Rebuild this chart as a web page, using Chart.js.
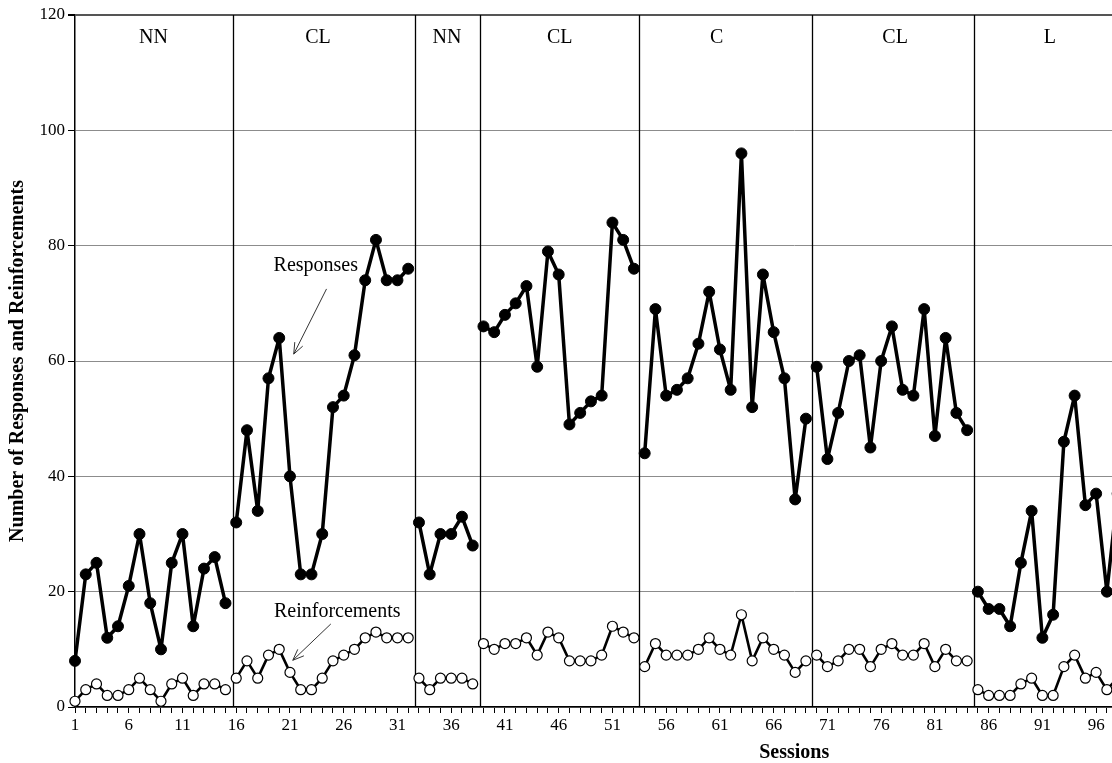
<!DOCTYPE html>
<html>
<head>
<meta charset="utf-8">
<title>Responses and Reinforcements per Session</title>
<script src="https://cdn.jsdelivr.net/npm/chart.js@4.4.1/dist/chart.umd.min.js"></script>
<style>
  html, body { margin: 0; padding: 0; background: #fff; overflow: hidden; }
  canvas { display: block; }
</style>
</head>
<body>
<canvas id="chart" width="1520" height="763"></canvas>
<script>
// Responses per session (sessions 1..98)
const responses = [
  8, 23, 25, 12, 14, 21, 30, 18, 10, 25, 30, 14, 24, 26, 18,          // NN  1-15
  32, 48, 34, 57, 64, 40, 23, 23, 30, 52, 54, 61, 74, 81, 74, 74, 76, // CL 16-32
  32, 23, 30, 30, 33, 28,                                             // NN 33-38
  66, 65, 68, 70, 73, 59, 79, 75, 49, 51, 53, 54, 84, 81, 76,         // CL 39-53
  44, 69, 54, 55, 57, 63, 72, 62, 55, 96, 52, 75, 65, 57, 36, 50,     // C  54-69
  59, 43, 51, 60, 61, 45, 60, 66, 55, 54, 69, 47, 64, 51, 48,         // CL 70-84
  20, 17, 17, 14, 25, 34, 12, 16, 46, 54, 35, 37, 20, 37              // L  85-98
];

// Reinforcements per session (sessions 1..98)
const reinforcements = [
  1, 3, 4, 2, 2, 3, 5, 3, 1, 4, 5, 2, 4, 4, 3,
  5, 8, 5, 9, 10, 6, 3, 3, 5, 8, 9, 10, 12, 13, 12, 12, 12,
  5, 3, 5, 5, 5, 4,
  11, 10, 11, 11, 12, 9, 13, 12, 8, 8, 8, 9, 14, 13, 12,
  7, 11, 9, 9, 9, 10, 12, 10, 9, 16, 8, 12, 10, 9, 6, 8,
  9, 7, 8, 10, 10, 7, 10, 11, 9, 9, 11, 7, 10, 8, 8,
  3, 2, 2, 2, 4, 5, 2, 2, 7, 9, 5, 6, 3, 5
];

// Phase conditions, the session positions of the change lines, and label centres
const phaseNames = ['NN', 'CL', 'NN', 'CL', 'C', 'CL', 'L'];
const phaseBounds = [15.7, 32.6, 38.7, 53.45, 69.6, 84.6];
const phaseLabelAt = [8.3, 23.6, 35.6, 46.1, 60.7, 77.3, 91.7];

// Axis tick labels
const sessionTickLabels = [1, 6, 11, 16, 21, 26, 31, 36, 41, 46, 51, 56, 61, 66, 71, 76, 81, 86, 91, 96];
const countTicks = [0, 20, 40, 60, 80, 100, 120];

const SERIF = '"Liberation Serif", "Times New Roman", Times, serif';

// Turn a per-session series into {x, y} points, breaking the line at phase changes
function toPoints(values) {
  const pts = [];
  values.forEach((v, i) => {
    const s = i + 1;
    if (i > 0 && phaseBounds.some(b => b > s - 1 && b < s)) {
      pts.push({ x: s - 0.5, y: null });
    }
    pts.push({ x: s, y: v });
  });
  return pts;
}

// Callout labels with arrows, placed in (session, count) coordinates
const callouts = [
  { text: 'Responses', at: [23.4, 76.5], from: [24.4, 72.5], to: [21.35, 61.2] },
  { text: 'Reinforcements', at: [25.4, 16.6], from: [24.8, 14.4], to: [21.26, 8.1] }
];

const phasePlugin = {
  id: 'phases',
  beforeDatasetsDraw(chart) {
    const { ctx, chartArea, scales: { x, y } } = chart;
    ctx.save();
    ctx.strokeStyle = '#000';
    ctx.lineWidth = 1.3;
    const top = y.getPixelForValue(countTicks[countTicks.length - 1]);
    const bottom = y.getPixelForValue(0);
    phaseBounds.forEach(b => {
      const px = Math.round(x.getPixelForValue(b)) + 0.5;
      ctx.beginPath();
      ctx.moveTo(px, top);
      ctx.lineTo(px, bottom);
      ctx.stroke();
    });
    ctx.fillStyle = '#000';
    ctx.font = '20px ' + SERIF;
    ctx.textAlign = 'center';
    ctx.textBaseline = 'middle';
    phaseNames.forEach((name, i) => {
      ctx.fillText(name, x.getPixelForValue(phaseLabelAt[i]), chartArea.top + 23);
    });
    ctx.restore();
  },
  afterDatasetsDraw(chart) {
    const { ctx, scales: { x, y } } = chart;
    ctx.save();
    ctx.font = '20px ' + SERIF;
    ctx.textAlign = 'center';
    ctx.textBaseline = 'middle';
    ctx.fillStyle = '#000';
    ctx.strokeStyle = '#333';
    ctx.lineWidth = 1;
    callouts.forEach(c => {
      ctx.fillText(c.text, x.getPixelForValue(c.at[0]), y.getPixelForValue(c.at[1]));
      const x1 = x.getPixelForValue(c.from[0]), y1 = y.getPixelForValue(c.from[1]);
      const x2 = x.getPixelForValue(c.to[0]), y2 = y.getPixelForValue(c.to[1]);
      const ang = Math.atan2(y2 - y1, x2 - x1);
      const head = 12, spread = 0.38;
      ctx.beginPath();
      ctx.moveTo(x1, y1);
      ctx.lineTo(x2, y2);
      ctx.moveTo(x2 - head * Math.cos(ang - spread), y2 - head * Math.sin(ang - spread));
      ctx.lineTo(x2, y2);
      ctx.lineTo(x2 - head * Math.cos(ang + spread), y2 - head * Math.sin(ang + spread));
      ctx.stroke();
    });
    ctx.restore();
  }
};

new Chart(document.getElementById('chart'), {
  type: 'line',
  data: {
    datasets: [
      {
        label: 'Responses',
        data: toPoints(responses),
        borderColor: '#000',
        borderWidth: 3.5,
        borderJoinStyle: 'round',
        borderCapStyle: 'round',
        pointRadius: 5.5,
        pointBackgroundColor: '#000',
        pointBorderColor: '#000',
        pointBorderWidth: 1,
        tension: 0,
        clip: false
      },
      {
        label: 'Reinforcements',
        data: toPoints(reinforcements),
        borderColor: '#000',
        borderWidth: 2.6,
        borderJoinStyle: 'round',
        borderCapStyle: 'round',
        pointRadius: 5,
        pointBackgroundColor: '#fff',
        pointBorderColor: '#000',
        pointBorderWidth: 1.2,
        tension: 0,
        clip: false
      }
    ]
  },
  options: {
    responsive: false,
    animation: false,
    devicePixelRatio: 1,
    layout: { padding: { top: 15, right: 5, left: 0, bottom: 0 } },
    plugins: {
      legend: { display: false },
      tooltip: { enabled: false }
    },
    scales: {
      x: {
        type: 'linear',
        min: 1,
        max: 134.83,
        afterFit(scale) { scale.height = 56; },
        grid: { drawOnChartArea: false, drawTicks: true, tickLength: 6, tickColor: '#000', tickWidth: 1 },
        border: { color: '#000', width: 1.5 },
        ticks: {
          stepSize: 1,
          autoSkip: false,
          maxRotation: 0,
          minRotation: 0,
          includeBounds: false,
          padding: 2,
          color: '#000',
          font: { family: SERIF, size: 17 },
          callback: v => sessionTickLabels.includes(v) ? String(v) : ''
        },
        title: {
          display: true,
          text: 'Sessions',
          color: '#000',
          font: { family: SERIF, size: 20, weight: 'bold', lineHeight: 1 },
          padding: { top: 0, bottom: 0 }
        }
      },
      y: {
        min: 0,
        max: 120,
        afterFit(scale) { scale.width = 75; },
        afterBuildTicks(scale) { scale.ticks = countTicks.map(v => ({ value: v })); },
        grid: {
          color: c => c.tick && c.tick.value === 120 ? '#555' : '#8c8c8c',
          lineWidth: c => c.tick && c.tick.value === 120 ? 2 : 1,
          tickLength: 7,
          tickColor: '#000'
        },
        border: { color: '#000', width: 1.5 },
        ticks: {
          stepSize: 20,
          padding: 3,
          color: '#000',
          font: { family: SERIF, size: 17 }
        },
        title: {
          display: true,
          text: 'Number of Responses and Reinforcements',
          color: '#000',
          font: { family: SERIF, size: 20, weight: 'bold', lineHeight: 1.2 },
          padding: { top: 6, bottom: 0 }
        }
      }
    }
  },
  plugins: [phasePlugin]
});
</script>
</body>
</html>
